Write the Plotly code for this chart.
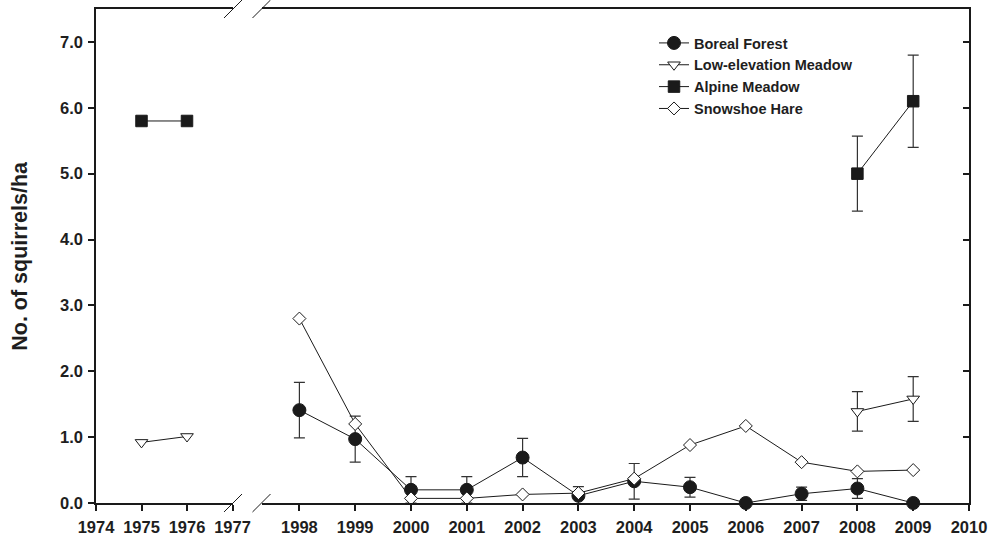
import plotly.graph_objects as go

# ---------------- data ----------------
years_early = [1975, 1976]
years_late = [1998, 1999, 2000, 2001, 2002, 2003, 2004, 2005, 2006, 2007, 2008, 2009]

boreal_late = [1.41, 0.97, 0.20, 0.20, 0.69, 0.11, 0.33, 0.24, 0.00, 0.14, 0.22, 0.00]
boreal_err = [0.42, 0.35, 0.20, 0.20, 0.29, 0.14, 0.27, 0.15, None, 0.10, 0.15, None]

lowelev_early = [0.92, 1.01]
lowelev_years_late = [2008, 2009]
lowelev_late = [1.39, 1.58]
lowelev_err = [0.30, 0.34]

alpine_early = [5.80, 5.80]
alpine_years_late = [2008, 2009]
alpine_late = [5.00, 6.10]
alpine_err = [0.57, 0.70]

hare_late = [2.80, 1.20, 0.07, 0.07, 0.13, 0.15, 0.37, 0.88, 1.17, 0.62, 0.48, 0.50]

ticks_early = [1974, 1975, 1976, 1977]
ticks_late = list(range(1998, 2011))
y_ticks = [0, 1, 2, 3, 4, 5, 6, 7]
y_ticktext = ["0.0", "1.0", "2.0", "3.0", "4.0", "5.0", "6.0", "7.0"]

# ---------------- styles ----------------
FONT = "Liberation Sans, Arial, sans-serif"
INK = "#1a1a1a"
TXT = "#1e1e1e"
styles = {
    "Boreal Forest": dict(symbol="circle", size=13, color=INK, line=dict(color=INK, width=1)),
    "Low-elevation Meadow": dict(symbol="triangle-down", size=11, color="white", line=dict(color=INK, width=1)),
    "Alpine Meadow": dict(symbol="square", size=11.5, color=INK, line=dict(color=INK, width=1)),
    "Snowshoe Hare": dict(symbol="diamond", size=10, color="white", line=dict(color=INK, width=1)),
}

def err(arr):
    return dict(type="data", array=arr, visible=True, color="#333333", thickness=1.2, width=5.5)

fig = go.Figure()

def add(name, x, y, xa, ya, errarr=None, legend=True):
    fig.add_trace(go.Scatter(
        x=x, y=y, name=name, mode="lines+markers",
        xaxis=xa, yaxis=ya,
        line=dict(color=INK, width=1),
        marker=styles[name],
        error_y=err(errarr) if errarr is not None else None,
        showlegend=legend, legendgroup=name, cliponaxis=False,
    ))

# right (late) segment, legend order
add("Boreal Forest", years_late, boreal_late, "x2", "y2", boreal_err)
add("Low-elevation Meadow", lowelev_years_late, lowelev_late, "x2", "y2", lowelev_err)
add("Alpine Meadow", alpine_years_late, alpine_late, "x2", "y2", alpine_err)
add("Snowshoe Hare", years_late, hare_late, "x2", "y2")
# left (early) segment
add("Low-elevation Meadow", years_early, lowelev_early, "x", "y", legend=False)
add("Alpine Meadow", years_early, alpine_early, "x", "y", legend=False)
# empty carrier trace for the y tick-label axis
fig.add_trace(go.Scatter(x=[], y=[], xaxis="x", yaxis="y3", showlegend=False, hoverinfo="skip"))

W, H = 988, 539
# plot area in screen pixels
P_LEFT, P_RIGHT, P_TOP, P_BOTTOM = 96, 969, 9, 503.5
LABEL_AXIS = 83          # screen x where the y tick-label axis sits
L = LABEL_AXIS
R = W - P_RIGHT
T = P_TOP
B = H - P_BOTTOM
pw, ph = W - L - R, H - T - B

def px_x(p):   # screen px -> paper
    return (p - L) / pw

def px_y(p):
    return (P_BOTTOM - p) / ph

left_end = 233
right_start = 262
sp_early = 45.5
sp_late = 55.8

tickfont = dict(family=FONT, size=16.5, color=TXT, weight="bold")
axis_common = dict(showline=True, linewidth=2, linecolor=INK, showgrid=False, zeroline=False,
                   ticks="outside", ticklen=6, tickwidth=1.5, tickcolor=INK, tickfont=tickfont,
                   automargin=False)

fig.update_layout(
    width=W, height=H,
    margin=dict(l=L, r=R, t=T, b=B, pad=0),
    paper_bgcolor="white", plot_bgcolor="white",
    xaxis=dict(domain=[px_x(P_LEFT), px_x(left_end)], anchor="y",
               range=[1974, 1974 + (left_end - P_LEFT) / sp_early],
               tickvals=ticks_early, ticktext=[str(t) for t in ticks_early],
               mirror=True, ticklabelstandoff=2, **axis_common),
    xaxis2=dict(domain=[px_x(right_start), 1], anchor="y2",
                range=[2010 - (P_RIGHT - right_start) / sp_late, 2010],
                tickvals=ticks_late, ticktext=[str(t) for t in ticks_late],
                mirror=True, ticklabelstandoff=2, **axis_common),
    yaxis=dict(domain=[0, 1], anchor="x", range=[0, 7.5],
               tickvals=y_ticks, showticklabels=False, **axis_common),
    yaxis3=dict(overlaying="y", anchor="free", position=0, side="left", range=[0, 7.5],
                tickvals=y_ticks, ticktext=y_ticktext, tickfont=tickfont,
                ticks="", showline=False, showgrid=False, zeroline=False, automargin=False),
    yaxis2=dict(domain=[0, 1], anchor="x2", side="right", range=[0, 7.5], matches="y",
                tickvals=y_ticks, showticklabels=False, automargin=False,
                showline=True, linewidth=2, linecolor=INK, showgrid=False, zeroline=False,
                ticks="inside", ticklen=6, tickwidth=1.5, tickcolor=INK),
    legend=dict(x=px_x(654), y=px_y(27), xanchor="left", yanchor="top",
                bgcolor="rgba(0,0,0,0)",
                font=dict(family=FONT, size=14.5, color=TXT, weight="bold"),
                tracegroupgap=0),
    showlegend=True,
)

# y-axis title
fig.add_annotation(text="No. of squirrels/ha", xref="paper", yref="paper",
                   x=px_x(20), y=px_y(256), textangle=-90, showarrow=False,
                   xanchor="center", yanchor="middle",
                   font=dict(family=FONT, size=21.5, color=TXT, weight="bold"))

# axis break marks (decorations)
for cx in (left_end, right_start - 0.5):
    for cy in (P_TOP, P_BOTTOM):
        fig.add_shape(type="line", xref="paper", yref="paper",
                      x0=px_x(cx - 9), y0=px_y(cy + 9), x1=px_x(cx + 9), y1=px_y(cy - 9),
                      line=dict(color=INK, width=1), layer="above")

# remove the browser's default 8px body margin so the figure fills the window exactly
fig.write_html("out.html",
               config={"displayModeBar": False},
               post_script="document.body.style.margin='0';document.body.style.overflow='hidden';")
